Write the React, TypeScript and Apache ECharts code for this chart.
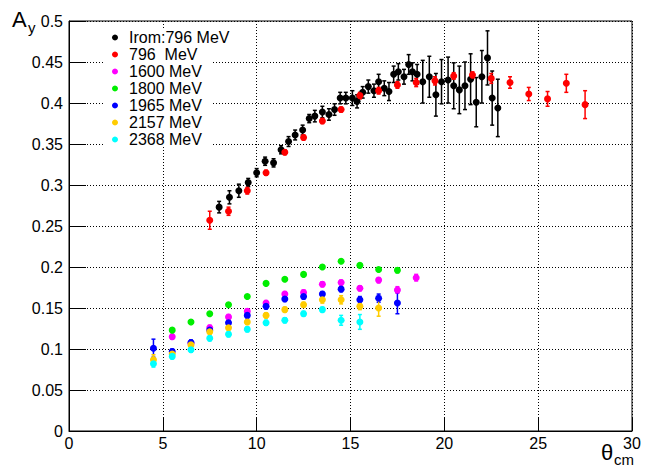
import React, { useEffect, useRef } from "react";
import * as echarts from "echarts";

// ---- data ----
const names = ["Irom:796 MeV", "796  MeV", "1600 MeV", "1800 MeV", "1965 MeV", "2157 MeV", "2368 MeV"];
const colors = ["#000000", "#ff0000", "#ff00ff", "#00ee00", "#0000ff", "#ffcc00", "#00ffff"];

const xIrom = [8.0, 8.55, 9.05, 9.55, 10.0, 10.45, 10.9, 11.3, 11.7, 12.05, 12.45, 12.8, 13.1, 13.5, 13.85, 14.15, 14.45, 14.75, 15.1, 15.35, 15.65, 15.95, 16.25, 16.5, 16.8, 17.05, 17.3, 17.55, 17.85, 18.1, 18.3, 18.55, 18.85, 19.2, 19.55, 19.85, 20.2, 20.5, 20.8, 21.1, 21.4, 21.7, 22.0, 22.3, 22.55, 22.85];
const yIrom = [0.273, 0.285, 0.293, 0.303, 0.315, 0.329, 0.327, 0.343, 0.353, 0.361, 0.367, 0.381, 0.384, 0.389, 0.386, 0.392, 0.406, 0.406, 0.406, 0.402, 0.413, 0.420, 0.415, 0.426, 0.418, 0.414, 0.435, 0.438, 0.432, 0.447, 0.438, 0.435, 0.426, 0.432, 0.410, 0.426, 0.428, 0.421, 0.416, 0.421, 0.429, 0.401, 0.432, 0.455, 0.406, 0.394];
const eIrom = [0.007, 0.008, 0.008, 0.005, 0.005, 0.005, 0.005, 0.005, 0.006, 0.006, 0.006, 0.005, 0.007, 0.007, 0.007, 0.007, 0.007, 0.007, 0.009, 0.008, 0.007, 0.008, 0.008, 0.009, 0.009, 0.011, 0.010, 0.010, 0.009, 0.012, 0.011, 0.012, 0.026, 0.025, 0.026, 0.027, 0.028, 0.028, 0.029, 0.029, 0.031, 0.030, 0.032, 0.033, 0.033, 0.035];

const x796 = [7.5, 8.5, 9.5, 10.5, 11.5, 12.5, 13.5, 14.5, 15.5, 16.5, 17.5, 18.5, 19.5, 20.5, 21.5, 22.5, 23.5, 24.5, 25.5, 26.5, 27.5];
const y796 = [0.257, 0.268, 0.293, 0.315, 0.340, 0.358, 0.378, 0.392, 0.409, 0.415, 0.422, 0.425, 0.427, 0.433, 0.434, 0.430, 0.425, 0.411, 0.405, 0.424, 0.398];
const e796 = [0.011, 0.005, 0.004, 0.003, 0.003, 0.003, 0.003, 0.003, 0.004, 0.004, 0.004, 0.005, 0.005, 0.004, 0.004, 0.006, 0.007, 0.008, 0.009, 0.011, 0.017];

const x1600 = [5.5, 6.5, 7.5, 8.5, 9.5, 10.5, 11.5, 12.5, 13.5, 14.5, 15.5, 16.5, 17.5, 18.5];
const y1600 = [0.115, 0.107, 0.126, 0.139, 0.146, 0.156, 0.167, 0.169, 0.179, 0.181, 0.174, 0.184, 0.172, 0.187];
const e1600 = [0.003, 0.003, 0.003, 0.003, 0.003, 0.003, 0.003, 0.003, 0.003, 0.003, 0.003, 0.003, 0.004, 0.004];

const x1800 = [5.5, 6.5, 7.5, 8.5, 9.5, 10.5, 11.5, 12.5, 13.5, 14.5, 15.5, 16.5, 17.5];
const y1800 = [0.123, 0.133, 0.143, 0.154, 0.164, 0.180, 0.185, 0.191, 0.200, 0.207, 0.202, 0.197, 0.196];
const e1800 = [0.002, 0.002, 0.002, 0.002, 0.002, 0.002, 0.002, 0.002, 0.002, 0.002, 0.002, 0.002, 0.003];

const x1965 = [4.5, 5.5, 6.5, 7.5, 8.5, 9.5, 10.5, 11.5, 12.5, 13.5, 14.5, 15.5, 16.5, 17.5];
const y1965 = [0.101, 0.097, 0.108, 0.123, 0.132, 0.141, 0.152, 0.161, 0.164, 0.167, 0.173, 0.160, 0.162, 0.156];
const e1965 = [0.011, 0.003, 0.003, 0.003, 0.003, 0.003, 0.003, 0.003, 0.003, 0.003, 0.003, 0.004, 0.005, 0.013];

const x2157 = [4.5, 5.5, 6.5, 7.5, 8.5, 9.5, 10.5, 11.5, 12.5, 13.5, 14.5, 15.5, 16.5];
const y2157 = [0.087, 0.094, 0.105, 0.121, 0.126, 0.133, 0.141, 0.148, 0.154, 0.160, 0.160, 0.152, 0.150];
const e2157 = [0.006, 0.003, 0.003, 0.003, 0.003, 0.003, 0.003, 0.003, 0.003, 0.004, 0.005, 0.004, 0.010];

const x2368 = [4.5, 5.5, 6.5, 7.5, 8.5, 9.5, 10.5, 11.5, 12.5, 13.5, 14.5, 15.5];
const y2368 = [0.082, 0.091, 0.099, 0.113, 0.118, 0.124, 0.132, 0.135, 0.143, 0.148, 0.135, 0.133];
const e2368 = [0.004, 0.003, 0.003, 0.003, 0.003, 0.003, 0.003, 0.003, 0.003, 0.003, 0.006, 0.009];

const xTicks = [0, 5, 10, 15, 20, 25, 30];

const allX = [xIrom, x796, x1600, x1800, x1965, x2157, x2368];
const allY = [yIrom, y796, y1600, y1800, y1965, y2157, y2368];
const allE = [eIrom, e796, e1600, e1800, e1965, e2157, e2368];

const FONT = "'Liberation Sans', Arial, Helvetica, sans-serif";

export default function App() {
  const ref = useRef<HTMLDivElement>(null);
  useEffect(() => {
    if (!ref.current) return;
    const chart = echarts.init(ref.current, null, { renderer: "svg" });
    const series: any[] = [];
    names.forEach((name, i) => {
      const color = colors[i];
      series.push({
        name: name + "_err",
        type: "custom",
        z: 2,
        silent: true,
        data: allX[i].map((x, j) => [x, allY[i][j] - allE[i][j], allY[i][j] + allE[i][j]]),
        encode: { x: 0, y: [1, 2] },
        renderItem: (params: any, api: any) => {
          const x = api.value(0);
          const p1 = api.coord([x, api.value(1)]);
          const p2 = api.coord([x, api.value(2)]);
          const st = { stroke: color, lineWidth: 1.5 };
          return {
            type: "group",
            children: [
              { type: "line", shape: { x1: p1[0], y1: p1[1], x2: p2[0], y2: p2[1] }, style: st },
              { type: "line", shape: { x1: p1[0] - 2, y1: p1[1], x2: p1[0] + 2, y2: p1[1] }, style: st },
              { type: "line", shape: { x1: p2[0] - 2, y1: p2[1], x2: p2[0] + 2, y2: p2[1] }, style: st },
            ],
          };
        },
      });
      series.push({
        name,
        type: "scatter",
        z: 3,
        symbol: "circle",
        symbolSize: 7,
        itemStyle: { color, opacity: 1 },
        data: allX[i].map((x, j) => [x, allY[i][j]]),
      });
    });

    chart.setOption({
      animation: false,
      backgroundColor: "#ffffff",
      textStyle: { fontFamily: FONT },
      grid: {
        left: 69, right: 19, top: 21, bottom: 39,
        show: true, borderColor: "#000", borderWidth: 1, backgroundColor: "transparent",
      },
      legend: {
        data: names,
        orient: "vertical",
        left: 112,
        top: 29,
        padding: 0,
        itemGap: 0,
        itemWidth: 18,
        itemHeight: 6,
        icon: "circle",
        selectedMode: false,
        textStyle: { fontSize: 16, color: "#000", lineHeight: 17, fontFamily: FONT },
      },
      xAxis: {
        type: "value",
        min: xTicks[0],
        max: xTicks[xTicks.length - 1],
        interval: 5,
        axisLine: { lineStyle: { color: "#000", width: 1 } },
        axisTick: { inside: true, length: 13, lineStyle: { color: "#000" } },
        axisLabel: { fontSize: 16, color: "#000", margin: 4, fontFamily: FONT },
        splitLine: { show: true, lineStyle: { color: "#000", type: [1, 2], width: 1 } },
      },
      yAxis: {
        type: "value",
        min: 0,
        max: 0.5,
        interval: 0.05,
        axisLine: { show: true, lineStyle: { color: "#000", width: 1 } },
        axisTick: { show: true, inside: true, length: 17, lineStyle: { color: "#000" } },
        axisLabel: {
          fontSize: 16, color: "#000", margin: 6, fontFamily: FONT,
          formatter: (v: number) => String(+v.toFixed(2)),
        },
        splitLine: { show: true, lineStyle: { color: "#000", type: [1, 2], width: 1 } },
      },
      graphic: [
        { type: "rect", z: 1, shape: { x: 105, y: 28, width: 106, height: 119 }, style: { fill: "#fff" }, silent: true },
        { type: "text", x: 12, y: 19, style: { text: "A", font: `22px ${FONT}`, fill: "#000", verticalAlign: "middle" } },
        { type: "text", x: 28, y: 27, style: { text: "y", font: `15px ${FONT}`, fill: "#000", verticalAlign: "middle" } },
        { type: "text", x: 601, y: 452, style: { text: "θ", font: `22px ${FONT}`, fill: "#000", verticalAlign: "middle" } },
        { type: "text", x: 614, y: 459, style: { text: "cm", font: `15px ${FONT}`, fill: "#000", verticalAlign: "middle" } },
      ],
      series,
    });
    return () => chart.dispose();
  }, []);
  return <div ref={ref} style={{ width: 651, height: 470, position: "absolute", left: 0, top: 0 }} />;
}
